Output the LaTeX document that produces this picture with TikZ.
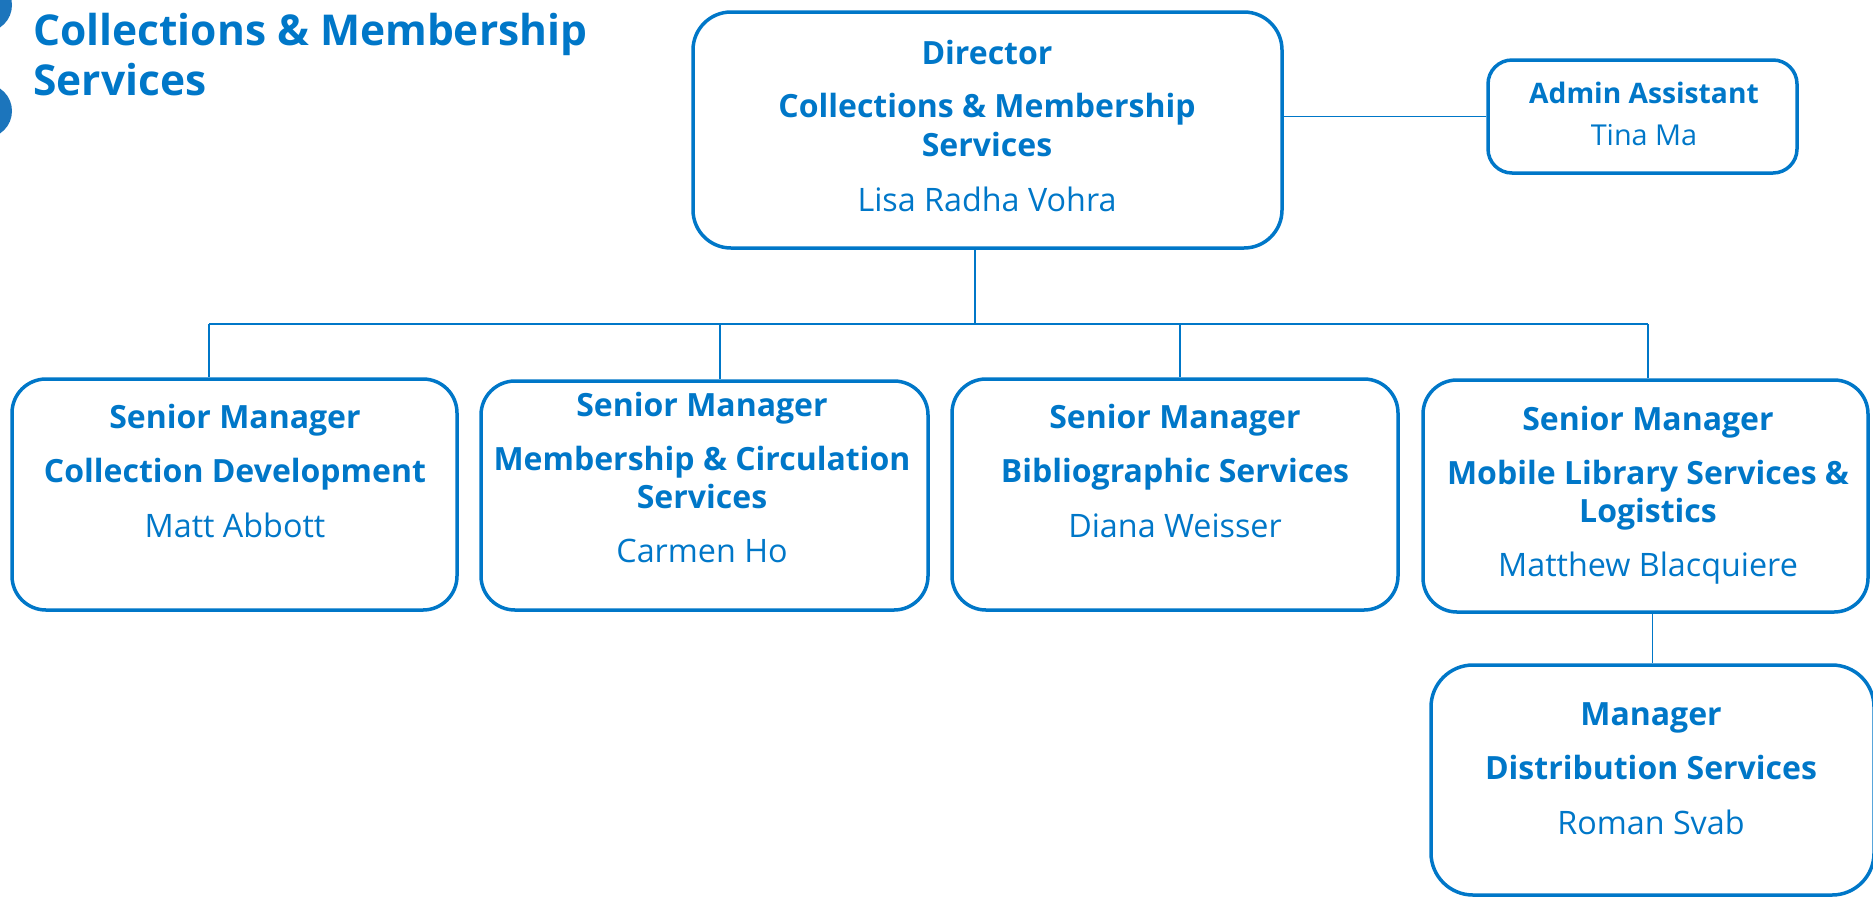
\documentclass[tikz,border=0pt]{standalone}
\usepackage{fontspec}
\setmainfont{Open Sans}
\definecolor{tpl}{HTML}{0077C8}
\definecolor{dotc}{HTML}{1C75BC}
\begin{document}
\begin{tikzpicture}[x=1pt,y=-1pt,
  box/.style={draw=tpl, line width=3.5pt, rounded corners=#1, inner sep=0pt, rectangle},
  box/.default=34pt,
  conn/.style={draw=tpl, line width=1.6pt},
  ttl/.style={text=tpl, anchor=base, font=\fontsize{32}{38}\selectfont\bfseries, inner sep=0pt},
  nm/.style={text=tpl, anchor=base, font=\fontsize{32.3}{38}\selectfont, inner sep=0pt},
  sttl/.style={ttl, font=\fontsize{28.2}{33}\selectfont\bfseries},
  snm/.style={nm, font=\fontsize{28.8}{33}\selectfont},
  head/.style={text=tpl, anchor=base west, font=\fontsize{42.5}{50}\selectfont\bfseries, inner sep=0pt},
]
\useasboundingbox (0,0) rectangle (1873,898);
\clip (0,0) rectangle (1873,898);

% decorative dots
\fill[dotc] (-15,5) circle (27pt);
\fill[dotc] (-15,111) circle (27pt);

% heading
\node[head] (h1) at (33,45) {Collections \& Membership};
\node[head] (h2) at (33,95) {Services};

% boxes
\node[box=38pt, minimum width=589pt, minimum height=236pt] (dir) at (987.5,130) {};
\node[box=24pt, minimum width=309pt, minimum height=113pt] (adm) at (1642.5,116.5) {};
\node[box, minimum width=445pt, minimum height=231pt] (b1) at (234.5,494.5) {};
\node[box, minimum width=447pt, minimum height=229pt] (b2) at (704.5,495.5) {};
\node[box, minimum width=446pt, minimum height=231pt] (b3) at (1175,494.5) {};
\node[box, minimum width=445pt, minimum height=232pt] (b4) at (1645.5,496) {};
\node[box=42pt, minimum width=443pt, minimum height=230pt] (b5) at (1652.5,780) {};

% connectors
\coordinate (j0) at (975,324);
\coordinate (t1) at (209,324);
\coordinate (t2) at (720,324);
\coordinate (t3) at (1180,324);
\coordinate (t4) at (1648,324);
\draw[conn] (dir.south -| j0) -- (j0);
\draw[conn] (t1) -- (t4);
\draw[conn] (t1) -- (t1 |- b1.north);
\draw[conn] (t2) -- (t2 |- b2.north);
\draw[conn] (t3) -- (t3 |- b3.north);
\draw[conn] (t4) -- (t4 |- b4.north);
\draw[conn] (adm.west) -- (adm.west -| dir.east);
\draw[conn] (b5.north) -- (b5.north |- b4.south);

% director text
\node[ttl] (d1) at (987,64) {Director};
\node[ttl] (d2) at (987,117.5) {Collections \& Membership};
\node[ttl] (d3) at (987,156) {Services};
\node[nm]  (d4) at (987,211) {Lisa Radha Vohra};

% admin text
\node[sttl] (a1) at (1644,103) {Admin Assistant};
\node[snm]  (a2) at (1644,145) {Tina Ma};

% box 1
\node[ttl] (p1) at (235,428) {Senior Manager};
\node[ttl] (p2) at (235,482) {Collection Development};
\node[nm]  (p3) at (235,537) {Matt Abbott};

% box 2
\node[ttl] (q1) at (702,416) {Senior Manager};
\node[ttl] (q2) at (702,470) {Membership \& Circulation};
\node[ttl] (q3) at (702,508) {Services};
\node[nm]  (q4) at (702,562) {Carmen Ho};

% box 3
\node[ttl] (r1) at (1175,428) {Senior Manager};
\node[ttl] (r2) at (1175,482) {Bibliographic Services};
\node[nm]  (r3) at (1175,537) {Diana Weisser};

% box 4
\node[ttl] (s1) at (1648,430) {Senior Manager};
\node[ttl] (s2) at (1648,484) {Mobile Library Services \&};
\node[ttl] (s3) at (1648,522) {Logistics};
\node[nm]  (s4) at (1648,576) {Matthew Blacquiere};

% box 5
\node[ttl] (u1) at (1651,725) {Manager};
\node[ttl] (u2) at (1651,779) {Distribution Services};
\node[nm]  (u3) at (1651,834) {Roman Svab};
\end{tikzpicture}
\end{document}
